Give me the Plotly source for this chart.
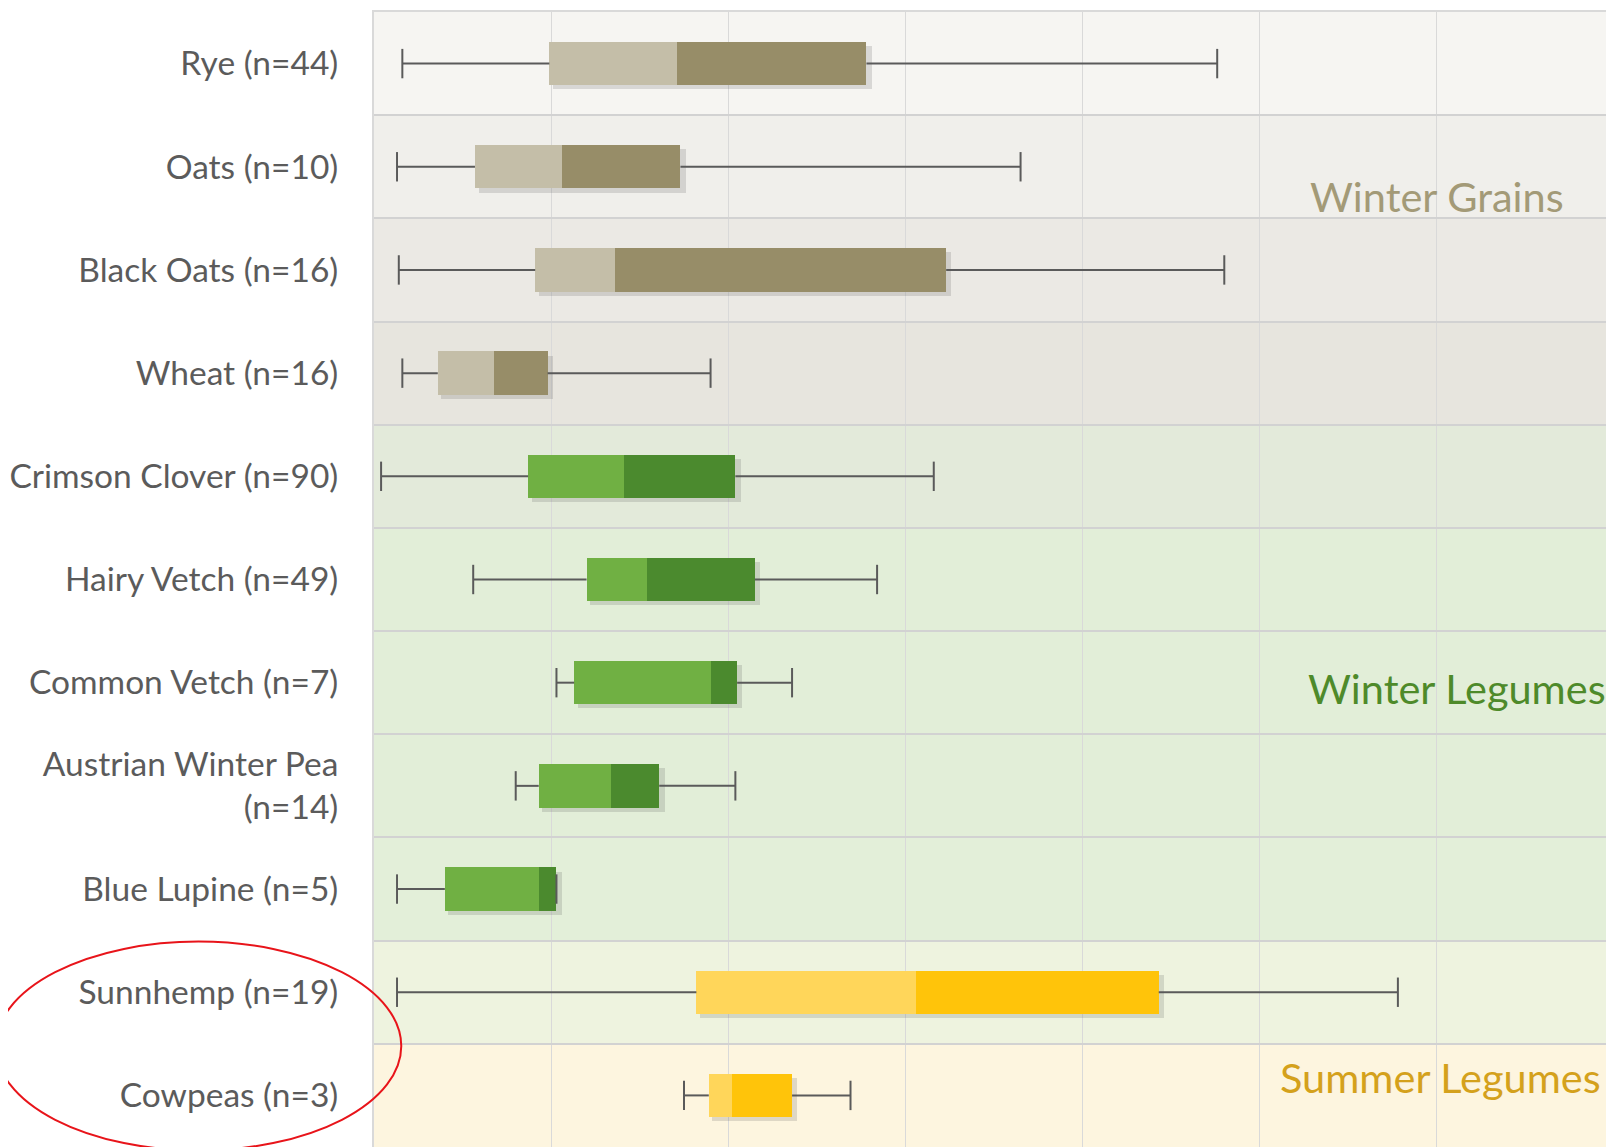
import plotly.graph_objects as go

# cover crop categories, top to bottom
crops = ["Rye (n=44)", "Oats (n=10)", "Black Oats (n=16)", "Wheat (n=16)",
         "Crimson Clover (n=90)", "Hairy Vetch (n=49)", "Common Vetch (n=7)",
         "Austrian Winter Pea<br>(n=14)", "Blue Lupine (n=5)",
         "Sunnhemp (n=19)", "Cowpeas (n=3)"]
groups = ["grain", "grain", "grain", "grain",
          "legume", "legume", "legume", "legume", "legume",
          "summer", "summer"]

# box statistics (one grid step = 1 unit)
low = [0.16, 0.13, 0.14, 0.16, 0.04, 0.56, 1.03, 0.80, 0.13, 0.13, 1.75]
q1 = [0.99, 0.57, 0.91, 0.36, 0.87, 1.20, 1.13, 0.93, 0.40, 1.82, 1.89]
median = [1.71, 1.06, 1.36, 0.68, 1.41, 1.54, 1.90, 1.34, 0.93, 3.06, 2.02]
q3 = [2.78, 1.73, 3.23, 0.98, 2.04, 2.15, 2.05, 1.61, 1.03, 4.43, 2.36]
high = [4.76, 3.65, 4.80, 1.90, 3.16, 2.84, 2.36, 2.04, 1.03, 5.78, 2.69]

group_labels = ["Winter Grains", "Winter Legumes", "Summer Legumes"]

light = {"grain": "#c4bea8", "legume": "#70b043", "summer": "#ffd65a"}
dark = {"grain": "#978d68", "legume": "#4b8a2e", "summer": "#ffc40a"}
band = ["#f6f5f2", "#f0efeb", "#ebe9e4", "#e7e5de",
        "#e3eada", "#e2eed8", "#e2eed8", "#e2eed8", "#e3efd9",
        "#eef3df", "#fdf5df"]

fig = go.Figure()

# row background bands
for i, c in enumerate(band):
    fig.add_shape(type="rect", xref="paper", yref="y", x0=0, x1=1,
                  y0=i - 0.5, y1=i + 0.5, fillcolor=c, line_width=0, layer="below")

# whiskers
wx, wy = [], []
for i, name in enumerate(crops):
    wx += [low[i], q1[i], None, q3[i], high[i], None]
    wy += [name, name, None, name, name, None]
fig.add_trace(go.Scatter(x=wx, y=wy, mode="lines", line=dict(color="#5a5a5a", width=2),
                         hoverinfo="skip", showlegend=False))
fig.add_trace(go.Scatter(x=low + high, y=crops + crops, mode="markers",
                         marker=dict(symbol="line-ns-open", size=21, color="#5a5a5a",
                                     line=dict(color="#5a5a5a", width=2)),
                         hoverinfo="skip", showlegend=False))

# soft drop shadow under each box
fig.add_trace(go.Bar(y=crops, x=[b - a + 0.01 for b, a in zip(q3, q1)],
                     base=[a + 0.02 for a in q1], orientation="h",
                     width=0.42, offset=-0.17,
                     marker=dict(color="rgba(60,60,60,0.16)", line_width=0),
                     hoverinfo="skip", showlegend=False))

# boxes: lower half and upper half
fig.add_trace(go.Bar(y=crops, x=[m - a for m, a in zip(median, q1)], base=q1,
                     orientation="h", width=0.42, offset=-0.21,
                     marker=dict(color=[light[g] for g in groups], line_width=0),
                     showlegend=False))
fig.add_trace(go.Bar(y=crops, x=[b - m for b, m in zip(q3, median)], base=median,
                     orientation="h", width=0.42, offset=-0.21,
                     marker=dict(color=[dark[g] for g in groups], line_width=0),
                     showlegend=False))

label_style = dict(xref="paper", yref="paper", xanchor="center", yanchor="middle",
                   showarrow=False)
fig.add_annotation(text=group_labels[0], x=0.857, y=0.838,
                   font=dict(size=41.5, color="#a39a77"), **label_style)
fig.add_annotation(text=group_labels[1], x=0.873, y=0.404,
                   font=dict(size=41.5, color="#4e8a2a"), **label_style)
fig.add_annotation(text=group_labels[2], x=0.860, y=0.062,
                   font=dict(size=41.5, color="#d4a11c"), **label_style)

# red highlight ellipse around the summer legumes
fig.add_shape(type="circle", xref="paper", yref="paper",
              x0=-0.305, x1=0.022, y0=-0.003, y1=0.181,
              line=dict(color="#e8141a", width=2))

# the page body adds a small margin, so the figure is a bit smaller than the window
fig.update_layout(
    width=1606, height=1139,
    margin=dict(l=366, r=0, t=4, b=0),
    paper_bgcolor="white", plot_bgcolor="rgba(0,0,0,0)",
    barmode="overlay", bargap=0,
    font=dict(family="Lato, Open Sans, sans-serif"),
    xaxis=dict(range=[0, 7], dtick=1, showticklabels=False, zeroline=False,
               automargin=False,
               showgrid=True, gridcolor="#d9d9d9", gridwidth=1,
               showline=True, linecolor="#d9d9d9", linewidth=2, mirror=True),
    yaxis=dict(categoryorder="array", categoryarray=crops, range=[10.5, -0.5],
               automargin=False,
               tickson="boundaries", showgrid=True, gridcolor="#d2d2d2", gridwidth=2,
               ticks="", ticklabelstandoff=27,
               tickfont=dict(size=33.5, color="#5b5b5b"),
               showline=True, linecolor="#d9d9d9", linewidth=2),
)

fig.write_html("out.html")
